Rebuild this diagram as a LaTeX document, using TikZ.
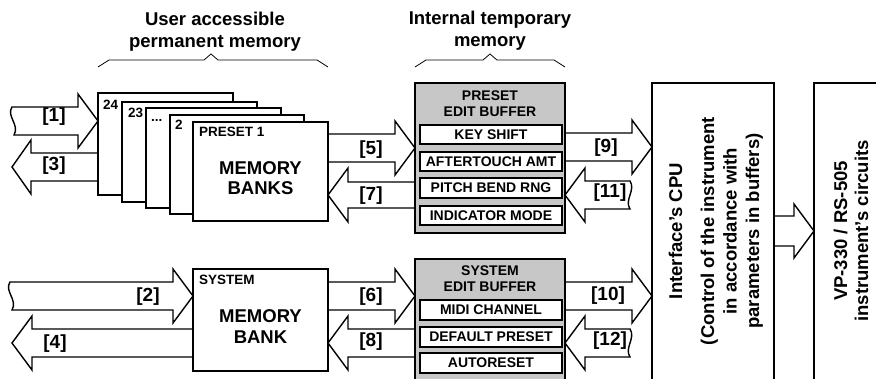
\documentclass[tikz,border=0pt]{standalone}
\usepackage{fontspec}
\setmainfont{Liberation Sans}
\newcommand\fsz[1]{\fontsize{#1}{#1}\selectfont\bfseries}
\newcommand\blk[5]{%
  \draw[barrow] (#1,#4-#5) -- (#2,#4-#5) -- (#2,#4-27) -- (#3,#4) -- (#2,#4+27) -- (#2,#4+#5) -- (#1,#4+#5);}
\begin{document}
\begin{tikzpicture}[x=1pt,y=-1pt,
  barrow/.style={draw,line width=1.4pt,fill=white,line join=miter},
  page/.style={draw,line width=2pt,fill=white,inner sep=0pt,outer sep=0pt,anchor=north west},
  bufbox/.style={draw,line width=2.2pt,fill=black!22,inner sep=0pt,outer sep=0pt,anchor=north west},
  field/.style={draw,line width=1.8pt,fill=white,inner sep=0pt,outer sep=0pt,minimum width=142pt,minimum height=19.5pt,font=\fsz{14}},
  brace/.style={draw,line width=0.8pt},
  small/.style={font=\fsz{13.5}, inner sep=0pt, anchor=base west},
  big/.style={font=\fsz{18.5}, inner sep=0pt, anchor=base},
  num/.style={font=\fsz{19}, inner sep=0pt},
  head/.style={font=\fsz{14}, inner sep=0pt, anchor=base},
  title/.style={font=\fsz{18.5}, inner sep=0pt, anchor=base}]
\useasboundingbox (0,0) rectangle (876,379);
\clip (0,0) rectangle (876,379);
\fill[white] (0,0) rectangle (876,379);

% titles and braces
\node[title] (t1) at (215,26) {User accessible};
\node[title] (t2) at (215,48) {permanent memory};
\node[title] (t3) at (490,25) {Internal temporary};
\node[title] (t4) at (490,47) {memory};
\draw[brace] (98,67) -- (109,60) -- (204,60) -- (211,54) -- (218,60) -- (317,60) -- (328,67);
\draw[brace] (415,67) -- (426,60) -- (483,60) -- (490,54) -- (497,60) -- (554,60) -- (565,67);

% block arrows
\draw[barrow] (12,107) .. controls (6,116) and (20,125) .. (14,135) -- (78,135) -- (78,148) -- (98,121) -- (78,94) -- (78,107) -- cycle;
\blk{98}{31}{12}{167}{14}
\draw[barrow] (10,282) .. controls (4,291) and (18,300) .. (12,310) -- (173,310) -- (173,323) -- (193,296) -- (173,269) -- (173,282) -- cycle;
\blk{193}{32}{12}{343}{14}
\blk{328}{395}{415}{148}{14}
\blk{415}{348}{328}{195}{13}
\blk{328}{395}{415}{296}{14}
\blk{415}{348}{328}{343}{14}
\blk{565}{632}{652}{147}{14}
\blk{565}{632}{652}{296}{14}
\draw[barrow] (630,181) .. controls (636,190) and (624,200) .. (630,209) -- (585,209) -- (585,222) -- (565,195) -- (585,168) -- (585,181) -- cycle;
\draw[barrow] (630,329) .. controls (636,338) and (624,348) .. (630,357) -- (585,357) -- (585,370) -- (565,343) -- (585,316) -- (585,329) -- cycle;
\blk{774}{794}{814}{231}{15}

% stacked memory pages
\node[page,minimum width=135pt,minimum height=102pt] (p24) at (98,93) {};
\node[page,minimum width=135pt,minimum height=100pt] (p23) at (122,102) {};
\node[page,minimum width=135pt,minimum height=100pt] (pdots) at (146,108) {};
\node[page,minimum width=134pt,minimum height=99pt] (p2) at (170,115) {};
\node[page,minimum width=135pt,minimum height=99pt] (p1) at (193,122) {};
\node[small] (l24) at (103,110) {24};
\node[small] (l23) at (128,118) {23};
\node[small] (ldots) at (151,122) {...};
\node[small] (l2) at (175,130) {2};
\node[small] (lp1) at (199,137) {PRESET 1};
\node[big] (m1) at (260.5,175) {MEMORY};
\node[big] (m2) at (260.5,195) {BANKS};

\node[page,minimum width=135pt,minimum height=102pt] (sys) at (193,269) {};
\node[small] (lsys) at (199,285) {SYSTEM};
\node[big] (m3) at (260.5,323) {MEMORY};
\node[big] (m4) at (260.5,344) {BANK};

% buffers
\node[bufbox,minimum width=150pt,minimum height=150pt] (pbuf) at (415,83) {};
\node[head] (h1) at (490,101) {PRESET};
\node[head] (h2) at (490,117) {EDIT BUFFER};
\node[field] (f1) at (491,134.5) {KEY SHIFT};
\node[field] (f2) at (491,161.5) {AFTERTOUCH AMT};
\node[field] (f3) at (491,188) {PITCH BEND RNG};
\node[field] (f4) at (491,215.5) {INDICATOR MODE};

\node[bufbox,minimum width=150pt,minimum height=140pt] (sbuf) at (415,259) {};
\node[head] (h3) at (490,276) {SYSTEM};
\node[head] (h4) at (490,292) {EDIT BUFFER};
\node[field] (f5) at (491,310) {MIDI CHANNEL};
\node[field] (f6) at (491,337) {DEFAULT PRESET};
\node[field] (f7) at (491,363) {AUTORESET};

% CPU and instrument
\node[page,minimum width=122pt,minimum height=320pt] (cpu) at (652,83) {};
\node[page,minimum width=100pt,minimum height=320pt] (vp) at (814,83) {};
\node[big,rotate=90] (c1) at (682,231) {Interface's CPU};
\node[big,rotate=90] (c2) at (714,231) {(Control of the instrument};
\node[big,rotate=90] (c3) at (736.5,231) {in accordance with};
\node[big,rotate=90] (c4) at (759,231) {parameters in buffers)};
\node[big,rotate=90] (v1) at (847,231) {VP-330 / RS-505};
\node[big,rotate=90] (v2) at (868,231) {instrument's circuits};

% arrow labels
\node[num] (n1) at (54,117) {[1]};
\node[num] (n3) at (54,166) {[3]};
\node[num] (n2) at (148,297) {[2]};
\node[num] (n4) at (55,344) {[4]};
\node[num] (n5) at (371,150) {[5]};
\node[num] (n7) at (371,196) {[7]};
\node[num] (n6) at (371,297) {[6]};
\node[num] (n8) at (371,342) {[8]};
\node[num] (n9) at (606,148) {[9]};
\node[num] (n11) at (610,193) {[11]};
\node[num] (n10) at (608,296) {[10]};
\node[num] (n12) at (610,341) {[12]};
\end{tikzpicture}
\end{document}
